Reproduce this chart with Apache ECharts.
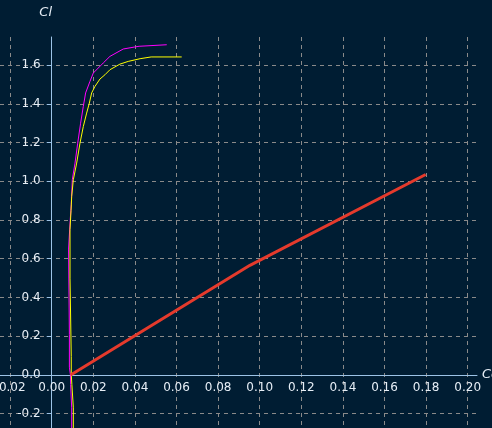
<!DOCTYPE html>
<html>
<head>
<meta charset="utf-8">
<script src="https://cdn.jsdelivr.net/npm/echarts@6/dist/echarts.min.js"></script>
<style>
  html, body { margin: 0; padding: 0; background: #001d33; }
  #polarChart { width: 492px; height: 428px; }
</style>
</head>
<body>
<div id="polarChart"></div>
<script>
// polaire magenta (Cd, Cl)
var magentaCd = [0.0096, 0.0096, 0.0091, 0.0091, 0.0090, 0.0085, 0.0085, 0.0081, 0.0081, 0.0089, 0.0089, 0.0094,
  0.0099, 0.0112, 0.0125, 0.0139, 0.0152, 0.0163, 0.0184, 0.0200, 0.0248, 0.0280, 0.0344, 0.0397, 0.0420, 0.0553];
var magentaCl = [-0.30, -0.17, -0.16, -0.05, 0.0, 0.04, 0.21, 0.22, 0.65, 0.66, 0.80, 0.88,
  1.008, 1.094, 1.197, 1.300, 1.387, 1.456, 1.516, 1.559, 1.611, 1.645, 1.683, 1.693, 1.697, 1.705];

// polaire jaune (Cd, Cl)
var yellowCd = [0.0104, 0.0104, 0.0099, 0.0097, 0.0094, 0.0094, 0.0089, 0.0088, 0.0088, 0.0093, 0.0096, 0.0104,
  0.0120, 0.0136, 0.0152, 0.0168, 0.0181, 0.0192, 0.0208, 0.0232, 0.0256, 0.0280, 0.0328, 0.0368, 0.0425, 0.0478, 0.0625];
var yellowCl = [-0.30, -0.17, -0.16, -0.05, 0.0, 0.095, 0.10, 0.50, 0.75, 0.85, 0.921, 1.008,
  1.094, 1.197, 1.283, 1.352, 1.404, 1.456, 1.490, 1.528, 1.550, 1.576, 1.605, 1.619, 1.633, 1.642, 1.642];

// droite rouge
var redCd = [0.0091, 0.0953, 0.1798];
var redCl = [0.0, 0.566, 1.035];

function pairs(xs, ys) {
  return xs.map(function (x, i) { return [x, ys[i]]; });
}

var W = 492, H = 428;
var gridLeft = 0, gridRight = 15, gridTop = 37, gridBottom = 0;
var xMin = -0.02486, xMax = 0.20447;
var yMin = -0.274, yMax = 1.745;

// les axes passent par zero : decalage depuis le bord de la grille
var gw = W - gridLeft - gridRight, gh = H - gridTop - gridBottom;
var yAxisOffset = -(0 - xMin) / (xMax - xMin) * gw;
var xAxisOffset = -(0 - yMin) / (yMax - yMin) * gh;

var axisColor = '#9cc3e6';
var labelColor = '#e6eef6';
var gridColor = '#8a8a8a';
var fontName = 'DejaVu Sans';

var chart = echarts.init(document.getElementById('polarChart'));
chart.setOption({
  backgroundColor: '#001d33',
  animation: false,
  grid: { left: gridLeft, right: gridRight, top: gridTop, bottom: gridBottom, outerBoundsMode: 'none' },
  xAxis: {
    type: 'value',
    min: xMin,
    max: xMax,
    splitNumber: 11,
    position: 'bottom',
    offset: xAxisOffset,
    name: 'Cd',
    nameLocation: 'end',
    nameGap: 5,
    nameTextStyle: { color: labelColor, fontStyle: 'italic', fontSize: 13, fontFamily: fontName },
    axisLine: { onZero: false, lineStyle: { color: axisColor, width: 1 } },
    axisTick: { show: false },
    axisLabel: {
      color: labelColor, fontSize: 12, fontFamily: fontName, margin: 7,
      showMinLabel: false, showMaxLabel: false,
      formatter: function (v) { return v.toFixed(2); }
    },
    splitLine: {
      show: true, showMinLine: false, showMaxLine: false,
      lineStyle: { color: gridColor, type: [4, 4], width: 1 }
    }
  },
  yAxis: {
    type: 'value',
    min: yMin,
    max: yMax,
    splitNumber: 10,
    position: 'left',
    offset: yAxisOffset,
    name: 'Cl',
    nameLocation: 'end',
    nameGap: 18,
    nameTextStyle: { color: labelColor, fontStyle: 'italic', fontSize: 13, fontFamily: fontName, padding: [0, 12, 0, 0] },
    axisLine: { onZero: false, lineStyle: { color: axisColor, width: 1 } },
    axisTick: { show: true, length: 5, lineStyle: { color: axisColor } },
    axisLabel: {
      color: labelColor, fontSize: 12, fontFamily: fontName, margin: 11,
      showMinLabel: false, showMaxLabel: false,
      formatter: function (v) { return v.toFixed(1); }
    },
    splitLine: {
      show: true, showMinLine: false, showMaxLine: false,
      lineStyle: { color: gridColor, type: [4, 4], width: 1 }
    }
  },
  series: [
    {
      type: 'line', data: pairs(magentaCd, magentaCl), showSymbol: false,
      lineStyle: { color: '#ff00ff', width: 1 }, itemStyle: { color: '#ff00ff' }
    },
    {
      type: 'line', data: pairs(yellowCd, yellowCl), showSymbol: false,
      lineStyle: { color: '#ffff00', width: 1 }, itemStyle: { color: '#ffff00' }
    },
    {
      type: 'line', data: pairs(redCd, redCl), showSymbol: false,
      lineStyle: { color: '#e53a2c', width: 3 }, itemStyle: { color: '#e53a2c' }
    }
  ]
});
</script>
</body>
</html>
